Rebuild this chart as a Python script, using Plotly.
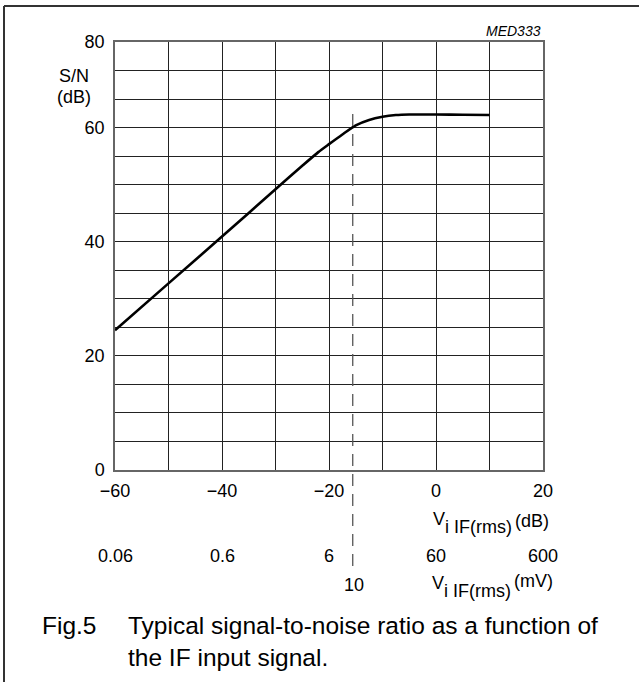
import numpy as np
import plotly.graph_objects as go

# ---- data ----
vin_db = [-60, -50, -40, -30, -25, -22, -20, -17.5, -15, -12.5, -10, -7.5, -5, -2.5, 0, 5, 10]
sn_db = [24.5, 32.7, 40.9, 49.2, 53.3, 55.7, 57.1, 58.8, 60.4, 61.35, 61.9, 62.2, 62.3, 62.3, 62.3, 62.25, 62.2]

x_tick_vals = [-60, -40, -20, 0, 20]
x_tick_text = ["\u221260", "\u221240", "\u221220", "0", "20"]
y_tick_vals = [0, 20, 40, 60, 75]
y_tick_text = ["0", "20", "40", "60", "80"]
mv_labels = ["0.06", "0.6", "6", "60", "600"]
mv_values = [0.06, 0.6, 6, 60, 600]
mv_ref_0db = 60.0          # mV corresponding to 0 dB
mv_marker = 10             # dashed reference level in mV

FONT = "Liberation Sans, Arial, sans-serif"
W, H = 639, 682
L, R, T, B = 115, 96, 42, 212
PW, PH = W - L - R, H - T - B


def px(x):
    return (x - L) / PW


def py(y):
    return (H - B - y) / PH


fig = go.Figure()
fig.add_trace(go.Scatter(
    x=vin_db, y=sn_db, mode="lines",
    line=dict(color="black", width=2.6, shape="spline", smoothing=0.6),
    hoverinfo="skip", showlegend=False))

marker_db = 20 * np.log10(mv_marker / mv_ref_0db)
fig.add_shape(type="line", xref="x", yref="paper",
              x0=marker_db, x1=marker_db, y0=py(114), y1=py(568),
              line=dict(color="#555", width=1.3, dash="12px,8px"))

# outer frame (top and left)
fig.add_shape(type="line", xref="paper", yref="paper",
              x0=px(4), x1=px(640), y0=py(6), y1=py(6),
              line=dict(color="#333", width=2))
fig.add_shape(type="line", xref="paper", yref="paper",
              x0=px(4), x1=px(4), y0=py(6), y1=py(683),
              line=dict(color="#333", width=2))

ann = []


def text(x, y, s, size=18, xanchor="center", italic=False, xref="paper"):
    ann.append(dict(x=x if xref != "paper" else px(x), y=py(y), xref=xref, yref="paper",
                    text=("<i>%s</i>" % s) if italic else s, showarrow=False,
                    xanchor=xanchor, yanchor="middle",
                    font=dict(family=FONT, size=size, color="black")))


text(543, 31.5, "MED333", size=14, xanchor="right", italic=True)
text(74, 76, "S/N")
text(74, 97, "(dB)")

# mV scale
for v, lab in zip(mv_values, mv_labels):
    text(20 * np.log10(v / mv_ref_0db), 556, lab, xref="x")
text(marker_db + 0.2, 585, str(mv_marker), xref="x")

# axis titles
text(430.5, 519, "V", xanchor="left")
text(443, 527, "i IF(rms)", xanchor="left")
text(513, 521, "(dB)", xanchor="left")
text(429.5, 583, "V", xanchor="left")
text(442, 591, "i IF(rms)", xanchor="left")
text(512, 580.5, "(mV)", xanchor="left")

# caption
text(40, 625, "Fig.5", size=24.5, xanchor="left")
text(126, 625, "Typical signal-to-noise ratio as a function of", size=24.5, xanchor="left")
text(126, 657, "the IF input signal.", size=24.5, xanchor="left")

axis_common = dict(showline=True, mirror=True, linecolor="#666", linewidth=1.5,
                   showgrid=True, gridcolor="#222", gridwidth=1, zeroline=False,
                   ticks="", automargin=False, fixedrange=True,
                   tickfont=dict(family=FONT, size=18, color="black"))

fig.update_layout(
    width=W, height=H,
    margin=dict(l=L, r=R, t=T, b=B, pad=0),
    paper_bgcolor="white", plot_bgcolor="white",
    xaxis=dict(range=[-60, 20], tickmode="array", tickvals=x_tick_vals, ticktext=x_tick_text,
               minor=dict(tickmode="linear", tick0=0, dtick=10, showgrid=True,
                          gridcolor="#222", gridwidth=1, ticks=""),
               ticklabelstandoff=4, **axis_common),
    yaxis=dict(range=[0, 75], tickmode="array", tickvals=y_tick_vals, ticktext=y_tick_text,
               minor=dict(tickmode="linear", tick0=0, dtick=5, showgrid=True,
                          gridcolor="#222", gridwidth=1, ticks=""),
               ticklabelstandoff=5, **axis_common),
    annotations=ann,
    showlegend=False,
)

fig.write_html("out.html", config={"displayModeBar": False},
               post_script="document.body.style.margin='0';")
